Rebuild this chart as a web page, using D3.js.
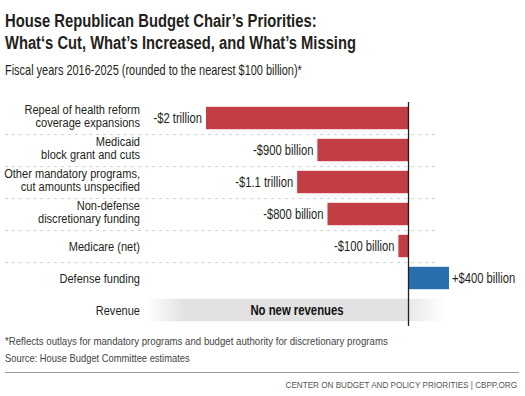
<!DOCTYPE html>
<html>
<head>
<meta charset="utf-8">
<script src="https://cdn.jsdelivr.net/npm/d3@7"></script>
<style>
  body { margin: 0; background: #fff; }
  svg text { font-family: "Liberation Sans", Arial, sans-serif; }
</style>
</head>
<body>
<div id="chart"></div>
<script>
// data
const categories = [
  ["Repeal of health reform", "coverage expansions"],
  ["Medicaid", "block grant and cuts"],
  ["Other mandatory programs,", "cut amounts unspecified"],
  ["Non-defense", "discretionary funding"],
  ["Medicare (net)"],
  ["Defense funding"],
  ["Revenue"]
];
const values = [-2000, -900, -1100, -800, -100, 400, null];
const valueLabels = ["-$2 trillion", "-$900 billion", "-$1.1 trillion", "-$800 billion", "-$100 billion", "+$400 billion", "No new revenues"];

const width = 525, height = 396;

// no condensed fonts here, so squeeze text horizontally with a transform
// text keeps x/y as data attrs, drawn at origin and moved by transform
function squeeze(sel, kFn) {
    sel.each(function (d, i) {
        const t = d3.select(this);
        const px = +t.attr('data-x'), py = +t.attr('data-y');
        const k = typeof kFn === 'function' ? kFn(this.getComputedTextLength()) : kFn;
        t.attr('x', 0).attr('y', 0)
         .attr('transform', `translate(${px},${py}) scale(${k},1)`);
    });
    return sel;
}
const fit = w => (n => w / n);

const svg = d3.select('#chart').append('svg')
    .attr('width', width)
    .attr('height', height);

// gradient for the "no revenue" band
const defs = svg.append('defs');
const gradL = defs.append('linearGradient').attr('id', 'fadeL');
gradL.append('stop').attr('offset', '0%').attr('stop-color', '#e2e2e2').attr('stop-opacity', 0);
gradL.append('stop').attr('offset', '14%').attr('stop-color', '#e2e2e2').attr('stop-opacity', 1);
gradL.append('stop').attr('offset', '100%').attr('stop-color', '#e2e2e2').attr('stop-opacity', 1);
const gradR = defs.append('linearGradient').attr('id', 'fadeR');
gradR.append('stop').attr('offset', '0%').attr('stop-color', '#e8e8e8').attr('stop-opacity', 1);
gradR.append('stop').attr('offset', '100%').attr('stop-color', '#e8e8e8').attr('stop-opacity', 0);

// titles
const t1 = svg.append('text').attr('data-x', 5).attr('data-y', 27)
    .attr('font-size', 19).attr('font-weight', 'bold').attr('fill', '#231f20')
    .text("House Republican Budget Chair\u2019s Priorities:");
squeeze(t1, fit(312));
const t2 = svg.append('text').attr('data-x', 5).attr('data-y', 49)
    .attr('font-size', 19).attr('font-weight', 'bold').attr('fill', '#231f20')
    .text("What\u2018s Cut, What\u2019s Increased, and What\u2019s Missing");
squeeze(t2, fit(351));
const sub = svg.append('text').attr('data-x', 5).attr('data-y', 75)
    .attr('font-size', 15).attr('fill', '#231f20')
    .text("Fiscal years 2016-2025 (rounded to the nearest $100 billion)*");
squeeze(sub, fit(297));

// scales
const x = d3.scaleLinear().domain([-2000, 400]).range([206, 449]);
const y = d3.scaleBand().domain(d3.range(categories.length)).range([102, 326]).paddingInner(0.3).paddingOuter(0.15);
const x0 = x(0);

// separators
svg.append('g').selectAll('line')
    .data(d3.range(categories.length - 2))
    .join('line')
    .attr('x1', 5).attr('x2', 435)
    .attr('y1', i => Math.round(y(i) + y.bandwidth() + (y.step() - y.bandwidth()) / 2) + 0.5)
    .attr('y2', i => Math.round(y(i) + y.bandwidth() + (y.step() - y.bandwidth()) / 2) + 0.5)
    .attr('stroke', '#d4d4d4')
    .attr('stroke-width', 1)
    .attr('stroke-dasharray', '3,4');

// revenue band
const revIdx = categories.length - 1;
svg.append('rect')
    .attr('x', 147).attr('width', x0 - 147)
    .attr('y', y(revIdx)).attr('height', y.bandwidth())
    .attr('fill', 'url(#fadeL)');
svg.append('rect')
    .attr('x', x0).attr('width', 445 - x0)
    .attr('y', y(revIdx)).attr('height', y.bandwidth())
    .attr('fill', 'url(#fadeR)');
const rev = svg.append('text')
    .attr('data-x', 297).attr('data-y', y(revIdx) + y.bandwidth() / 2 + 5)
    .attr('text-anchor', 'middle')
    .attr('font-size', 14).attr('font-weight', 'bold').attr('fill', '#111')
    .text(valueLabels[revIdx]);
squeeze(rev, 0.81);

// bars
const barData = values.map((v, i) => ({v, i})).filter(d => d.v !== null);
svg.append('g').selectAll('rect')
    .data(barData)
    .join('rect')
    .attr('x', d => x(Math.min(0, d.v)))
    .attr('width', d => Math.abs(x(d.v) - x0))
    .attr('y', d => y(d.i))
    .attr('height', y.bandwidth())
    .attr('fill', d => d.v < 0 ? '#c13e45' : '#2a6fad');

// value labels
const vals = svg.append('g').selectAll('text')
    .data(barData)
    .join('text')
    .attr('data-x', d => d.v < 0 ? x(d.v) - 4 : x(d.v) + 3)
    .attr('data-y', d => y(d.i) + y.bandwidth() / 2 + 5)
    .attr('text-anchor', d => d.v < 0 ? 'end' : 'start')
    .attr('font-size', 14).attr('fill', '#231f20')
    .text(d => valueLabels[d.i]);
squeeze(vals, 0.8);

// category labels, one text per line
const catLines = [];
categories.forEach((lines, i) => {
    lines.forEach((s, j) => {
        const off = lines.length === 1 ? 5 : (j === 0 ? -4.5 : 8.5);
        catLines.push({s, i, off});
    });
});
const cats = svg.append('g').selectAll('text')
    .data(catLines)
    .join('text')
    .attr('text-anchor', 'end')
    .attr('font-size', 13.5).attr('fill', '#231f20')
    .attr('data-x', 140)
    .attr('data-y', d => y(d.i) + y.bandwidth() / 2 + d.off)
    .text(d => d.s);
squeeze(cats, 0.82);

// zero line
svg.append('line')
    .attr('x1', x0).attr('x2', x0)
    .attr('y1', 102).attr('y2', 326)
    .attr('stroke', '#231f20').attr('stroke-width', 1.3);

// footer
const f1 = svg.append('text').attr('data-x', 5).attr('data-y', 345)
    .attr('font-size', 10.5).attr('fill', '#444')
    .text("*Reflects outlays for mandatory programs and budget authority for discretionary programs");
squeeze(f1, fit(383));
const f2 = svg.append('text').attr('data-x', 5).attr('data-y', 362)
    .attr('font-size', 10.5).attr('fill', '#444')
    .text("Source: House Budget Committee estimates");
squeeze(f2, fit(185));
svg.append('line')
    .attr('x1', 5).attr('x2', 519).attr('y1', 372.5).attr('y2', 372.5)
    .attr('stroke', '#9a9a9a').attr('stroke-width', 1);
const f3 = svg.append('text').attr('data-x', 517).attr('data-y', 388)
    .attr('text-anchor', 'end')
    .attr('font-size', 9.5).attr('fill', '#555')
    .text("CENTER ON BUDGET AND POLICY PRIORITIES | CBPP.ORG");
squeeze(f3, fit(232));
</script>
</body>
</html>
